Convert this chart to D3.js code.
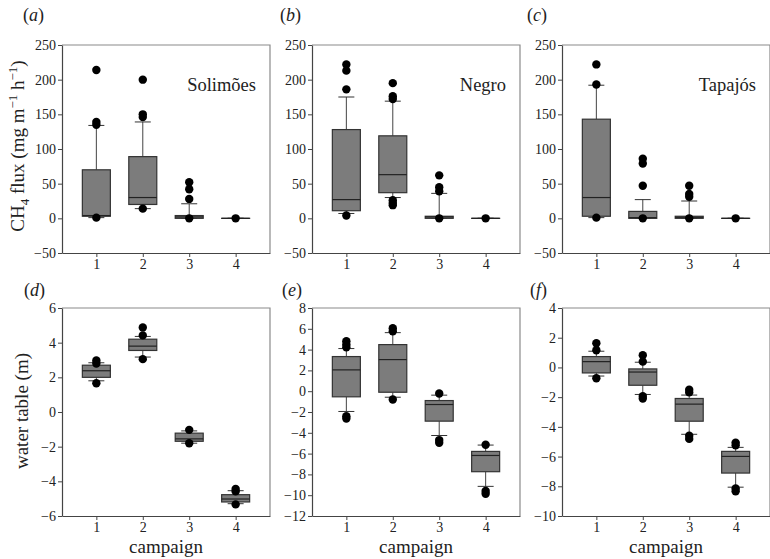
<!DOCTYPE html>
<html><head><meta charset="utf-8">
<script src="https://cdn.jsdelivr.net/npm/d3@7"></script>
<style>
body{margin:0;background:#fff;}
svg, svg text{font-family:"Liberation Serif","Tinos","Times New Roman","DejaVu Serif",serif !important;}
</style></head>
<body><svg id="c" width="770" height="559"></svg>
<script>
// ---- data ----
const campaigns = [1, 2, 3, 4];
// stats per campaign: [whiskerLow, q1, median, q3, whiskerHigh]
const solimoesStats = [[1, 3, 4, 70, 134], [14, 20, 30, 89, 139], [0, 0, 2, 4, 21], [0, 0, 0, 0, 0]];
const solimoesOut = [[214, 139, 135, 1], [200, 150, 146, 14], [52, 42, 28, 0], [0]];
const negroStats = [[7, 11, 27, 128, 175], [30, 37, 63, 119, 169], [0, 0, 2, 3, 36], [0, 0, 0, 0, 0]];
const negroOut = [[222, 213, 186, 4], [195, 176, 172, 26, 22, 19], [62, 45, 39, 0], [0]];
const tapajosStats = [[1, 3, 30, 143, 192], [0, 0, 1, 10, 27], [0, 0, 1.5, 3, 25], [0, 0, 0, 0, 0]];
const tapajosOut = [[222, 193, 1], [86, 79, 47, 0], [47, 35, 31, 0], [0]];
const solWTStats = [[1.8, 2.0, 2.38, 2.7, 2.84], [3.17, 3.55, 3.8, 4.2, 4.36], [-1.8, -1.69, -1.55, -1.22, -1.09], [-5.29, -5.19, -5.02, -4.77, -4.54]];
const solWTOut = [[2.97, 2.8, 1.66], [4.88, 4.42, 3.05], [-1.03, -1.8], [-4.44, -4.58, -5.33]];
const negWTStats = [[-1.95, -0.54, 2.05, 3.33, 4.1], [-0.58, -0.1, 3.04, 4.48, 5.63], [-4.26, -2.88, -1.28, -0.9, -0.38], [-9.15, -7.74, -6.18, -5.79, -5.18]];
const negWTOut = [[4.8, 4.5, 4.22, -2.4, -2.62], [6.05, 5.76, -0.8], [-0.22, -4.7, -4.96], [-5.15, -9.6, -9.86]];
const tapWTStats = [[-0.58, -0.37, 0.39, 0.73, 1.09], [-1.82, -1.2, -0.31, -0.1, 0.35], [-4.5, -3.62, -2.47, -2.09, -1.86], [-8.06, -7.11, -5.99, -5.65, -5.38]];
const tapWTOut = [[1.63, 1.16, -0.73], [0.82, 0.39, -1.93, -2.09], [-1.5, -1.68, -4.6, -4.81], [-5.06, -5.24, -8.15, -8.33]];
const fluxTicks = [-50, 0, 50, 100, 150, 200, 250];
const solWTTicks = [-6, -4, -2, 0, 2, 4, 6];
const negWTTicks = [-12, -10, -8, -6, -4, -2, 0, 2, 4, 6, 8];
const tapWTTicks = [-10, -8, -6, -4, -2, 0, 2, 4];
const panelLetters = ["a", "b", "c", "d", "e", "f"];
const riverNames = ["Solimões", "Negro", "Tapajós"];

// ---- drawing ----
const FONT = "'Liberation Serif','Tinos','Times New Roman','DejaVu Serif',serif";
const svg = d3.select("#c");
const W = 208, H = 208;
const lefts = [62, 312, 562];
const tops = [45, 308];
const letterX = [[23, 280, 527], [24, 282, 530]];
const letterY = [21, 296];

const panels = [
  {stats: solimoesStats, out: solimoesOut, ticks: fluxTicks, name: riverNames[0]},
  {stats: negroStats, out: negroOut, ticks: fluxTicks, name: riverNames[1]},
  {stats: tapajosStats, out: tapajosOut, ticks: fluxTicks, name: riverNames[2]},
  {stats: solWTStats, out: solWTOut, ticks: solWTTicks},
  {stats: negWTStats, out: negWTOut, ticks: negWTTicks},
  {stats: tapWTStats, out: tapWTOut, ticks: tapWTTicks}
];

panels.forEach((p, i) => {
  const col = i % 3, row = Math.floor(i / 3);
  const x0 = lefts[col], y0 = tops[row];
  const g = svg.append("g").attr("transform", `translate(${x0},${y0})`);
  const x = d3.scaleLinear().domain([0.26, 4.74]).range([0, W]);
  const y = d3.scaleLinear().domain(d3.extent(p.ticks)).range([H, 0]);

  g.append("path").attr("d", `M0,0H${W}V${H}`).attr("fill", "none").attr("stroke", "#8a8a8a").attr("stroke-width", 1.2);

  const bw = 28, cw = 16;
  campaigns.forEach((c, k) => {
    const [lo, q1, md, q3, hi] = p.stats[k];
    const cx = x(c);
    const wg = g.append("g");
    wg.append("line").attr("x1", cx).attr("x2", cx).attr("y1", y(hi)).attr("y2", y(q3)).attr("stroke", "#444");
    wg.append("line").attr("x1", cx).attr("x2", cx).attr("y1", y(q1)).attr("y2", y(lo)).attr("stroke", "#444");
    wg.append("line").attr("x1", cx - cw / 2).attr("x2", cx + cw / 2).attr("y1", y(hi)).attr("y2", y(hi)).attr("stroke", "#333");
    wg.append("line").attr("x1", cx - cw / 2).attr("x2", cx + cw / 2).attr("y1", y(lo)).attr("y2", y(lo)).attr("stroke", "#333");
    wg.append("rect").attr("x", cx - bw / 2).attr("width", bw)
      .attr("y", y(q3)).attr("height", Math.max(0.01, y(q1) - y(q3)))
      .attr("fill", "#7c7c7c").attr("stroke", "#333").attr("stroke-width", 1.2);
    wg.append("line").attr("x1", cx - bw / 2).attr("x2", cx + bw / 2).attr("y1", y(md)).attr("y2", y(md)).attr("stroke", "#222").attr("stroke-width", 1.2);
    wg.selectAll("circle").data(p.out[k]).join("circle")
      .attr("cx", cx).attr("cy", d => y(d)).attr("r", 4.2).attr("fill", "#000");
  });

  const ya = g.append("g").call(d3.axisLeft(y).tickValues(p.ticks).tickSize(4).tickSizeOuter(0).tickFormat(d => d < 0 ? "\u2212" + Math.abs(d) : String(d)));
  const xa = g.append("g").attr("transform", `translate(0,${H})`).call(d3.axisBottom(x).tickValues(campaigns).tickSize(4).tickSizeOuter(0).tickFormat(d3.format("d")));
  [ya, xa].forEach(a => {
    a.attr("font-family", FONT);
    a.select(".domain").attr("stroke", "#444").attr("stroke-width", 1.2);
    a.selectAll(".tick line").attr("stroke", "#444");
    a.selectAll("text").attr("font-family", FONT).attr("font-size", 14).attr("fill", "#222");
  });
  ya.selectAll("text").attr("x", -6);
  xa.selectAll("text").attr("y", 6);

  const lt = svg.append("text").attr("x", letterX[row][col]).attr("y", letterY[row])
    .attr("font-family", FONT).attr("font-size", 18).attr("fill", "#222");
  lt.append("tspan").text("(");
  lt.append("tspan").attr("font-style", "italic").text(panelLetters[i]);
  lt.append("tspan").text(")");

  if (p.name) {
    g.append("text").attr("x", W - 14).attr("y", 46).attr("text-anchor", "end")
      .attr("font-family", FONT).attr("font-size", 18.5).attr("fill", "#222").text(p.name);
  }
  if (row === 1) {
    g.append("text").attr("x", W / 2).attr("y", H + 37).attr("text-anchor", "middle")
      .attr("font-family", FONT).attr("font-size", 19).attr("fill", "#222").text("campaign");
  }
});

const t1 = svg.append("text").attr("transform", "translate(24,146) rotate(-90)")
  .attr("text-anchor", "middle").attr("font-family", FONT).attr("font-size", 19).attr("fill", "#222");
t1.append("tspan").text("CH");
t1.append("tspan").attr("font-size", 13).attr("dy", 5).text("4");
t1.append("tspan").attr("dy", -5).text(" flux (mg m");
t1.append("tspan").attr("font-size", 13).attr("dy", -7).text("\u22121");
t1.append("tspan").attr("dy", 7).text(" h");
t1.append("tspan").attr("font-size", 13).attr("dy", -7).text("\u22121");
t1.append("tspan").attr("dy", 7).text(")");

svg.append("text").attr("transform", "translate(28,411) rotate(-90)")
  .attr("text-anchor", "middle").attr("font-family", FONT).attr("font-size", 19).attr("fill", "#222").text("water table (m)");
</script>
</body></html>
